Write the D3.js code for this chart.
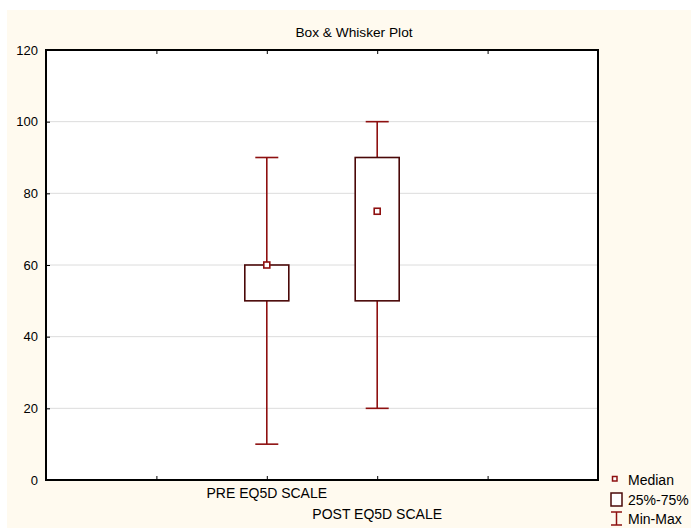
<!DOCTYPE html>
<html><head><meta charset="utf-8">
<script src="https://cdn.jsdelivr.net/npm/d3@7"></script>
<style>
html,body{margin:0;padding:0;background:#fff;}
svg{display:block;font-family:"Liberation Sans",Arial,sans-serif;}
</style></head>
<body>
<svg id="chart" width="691" height="528"></svg>
<script>
const categories = ["PRE EQ5D SCALE", "POST EQ5D SCALE"];
const minValues = [10, 20];
const q1Values = [50, 50];
const medianValues = [60, 75];
const q3Values = [60, 90];
const maxValues = [90, 100];
const yTicks = [0, 20, 40, 60, 80, 100, 120];
const categoryPositions = [2, 3];
const legendLabels = ["Median", "25%-75%", "Min-Max"];

const svg = d3.select("#chart");
const W = 691, H = 528;
const m = {left: 46, top: 50, right: 598, bottom: 480};
const FS = 13;
const LFS = 14;

svg.append("rect").attr("x", 7).attr("y", 10).attr("width", W - 7).attr("height", H - 10).attr("fill", "#fffaef");
svg.append("rect").attr("x", m.left).attr("y", m.top).attr("width", m.right - m.left).attr("height", m.bottom - m.top).attr("fill", "#ffffff");

const x = d3.scaleLinear().domain([0, 5]).range([m.left, m.right]);
const y = d3.scaleLinear().domain([0, 120]).range([m.bottom, m.top]);

// gridlines
svg.append("g").selectAll("line").data(yTicks.filter(d => d > 0 && d < 120)).join("line")
  .attr("x1", m.left).attr("x2", m.right).attr("y1", d => y(d)).attr("y2", d => y(d))
  .attr("stroke", "#dcdcdc").attr("stroke-width", 1);

// y axis
const yAxis = d3.axisLeft(y).tickValues(yTicks).tickSize(-4).tickPadding(8);
const gy = svg.append("g").attr("transform", `translate(${m.left},0)`).call(yAxis);
gy.select(".domain").remove();
gy.selectAll(".tick line").attr("stroke", "#000");
gy.selectAll(".tick text").attr("font-size", FS).attr("fill", "#000").attr("font-family", "Liberation Sans, Arial, sans-serif");

// x ticks top and bottom (inward)
const xt = d3.range(0, 6);
const gxb = svg.append("g").attr("transform", `translate(0,${m.bottom})`)
  .call(d3.axisBottom(x).tickValues(xt).tickSize(-4).tickFormat(""));
gxb.select(".domain").remove();
const gxt = svg.append("g").attr("transform", `translate(0,${m.top})`)
  .call(d3.axisTop(x).tickValues(xt).tickSize(-4).tickFormat(""));
gxt.select(".domain").remove();

// frame
svg.append("rect").attr("x", m.left).attr("y", m.top).attr("width", m.right - m.left).attr("height", m.bottom - m.top)
  .attr("fill", "none").attr("stroke", "#000").attr("stroke-width", 2);

// x labels (staggered below the axis)
svg.append("g").selectAll("text").data(categories).join("text")
  .attr("x", (d, i) => x(categoryPositions[i]))
  .attr("y", (d, i) => i === 0 ? 498 : 519)
  .attr("text-anchor", "middle").attr("font-size", LFS).attr("fill", "#000")
  .text(d => d);

// title
svg.append("text").attr("x", 354).attr("y", 37).attr("text-anchor", "middle")
  .attr("font-size", 13.7).attr("fill", "#000").text("Box & Whisker Plot");

const whiskerColor = "#8e1010";
const boxColor = "#4a0808";
const boxHalf = 22, capHalf = 11.5;

const data = categories.map((c, i) => ({c, pos: categoryPositions[i], min: minValues[i], q1: q1Values[i], med: medianValues[i], q3: q3Values[i], max: maxValues[i]}));
const g = svg.append("g");
data.forEach(d => {
  const cx = x(d.pos);
  g.append("line").attr("x1", cx).attr("x2", cx).attr("y1", y(d.q3)).attr("y2", y(d.max)).attr("stroke", whiskerColor).attr("stroke-width", 1.6);
  g.append("line").attr("x1", cx).attr("x2", cx).attr("y1", y(d.q1)).attr("y2", y(d.min)).attr("stroke", whiskerColor).attr("stroke-width", 1.6);
  g.append("line").attr("x1", cx - capHalf).attr("x2", cx + capHalf).attr("y1", y(d.max)).attr("y2", y(d.max)).attr("stroke", whiskerColor).attr("stroke-width", 1.6);
  g.append("line").attr("x1", cx - capHalf).attr("x2", cx + capHalf).attr("y1", y(d.min)).attr("y2", y(d.min)).attr("stroke", whiskerColor).attr("stroke-width", 1.6);
  g.append("rect").attr("x", cx - boxHalf).attr("y", y(d.q3)).attr("width", 2 * boxHalf).attr("height", y(d.q1) - y(d.q3))
    .attr("fill", "#fff").attr("stroke", boxColor).attr("stroke-width", 1.6);
  g.append("rect").attr("x", cx - 3).attr("y", y(d.med) - 3).attr("width", 6).attr("height", 6)
    .attr("fill", "#fff").attr("stroke", whiskerColor).attr("stroke-width", 1.6);
});

// legend
const lg = svg.append("g");
lg.append("rect").attr("x", 612.5).attr("y", 476.5).attr("width", 4.5).attr("height", 4.5).attr("fill", "#fff").attr("stroke", whiskerColor).attr("stroke-width", 1.5);
lg.append("rect").attr("x", 611).attr("y", 493).attr("width", 11).attr("height", 13).attr("fill", "#fff").attr("stroke", boxColor).attr("stroke-width", 1.5);
lg.append("line").attr("x1", 611).attr("x2", 622).attr("y1", 512).attr("y2", 512).attr("stroke", whiskerColor).attr("stroke-width", 1.5);
lg.append("line").attr("x1", 611).attr("x2", 622).attr("y1", 525).attr("y2", 525).attr("stroke", whiskerColor).attr("stroke-width", 1.5);
lg.append("line").attr("x1", 616.5).attr("x2", 616.5).attr("y1", 512).attr("y2", 525).attr("stroke", whiskerColor).attr("stroke-width", 1.5);
lg.selectAll("text").data(legendLabels).join("text")
  .attr("x", 628).attr("y", (d, i) => [485, 505, 524][i])
  .attr("font-size", LFS).attr("fill", "#000").text(d => d);
</script>
</body></html>
